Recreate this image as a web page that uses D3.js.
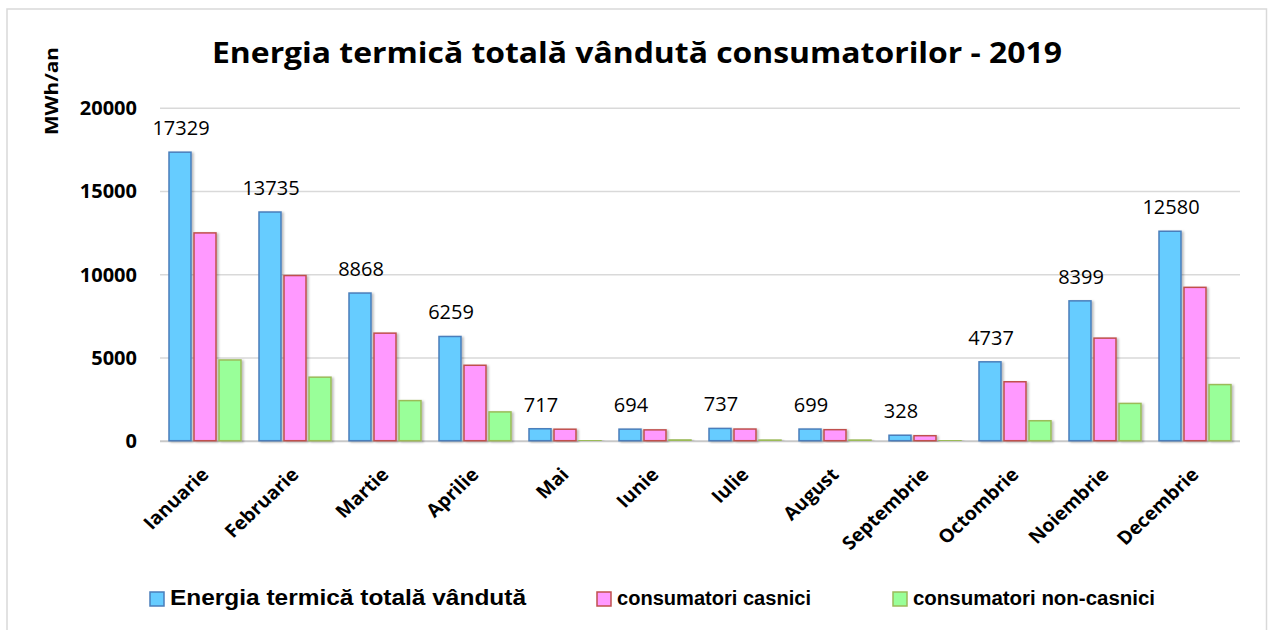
<!DOCTYPE html>
<html><head><meta charset="utf-8">
<script src="https://cdn.jsdelivr.net/npm/d3@7"></script>
<style>
html,body{margin:0;padding:0;background:#fff;}
svg{display:block;}
</style></head>
<body>
<svg id="chart" width="1271" height="630"></svg>
<script>
const months = ["Ianuarie","Februarie","Martie","Aprilie","Mai","Iunie","Iulie","August","Septembrie","Octombrie","Noiembrie","Decembrie"];
const totalSold = [17329,13735,8868,6259,717,694,737,699,328,4737,8399,12580];
const household = [12480,9920,6460,4530,690,650,700,662,300,3540,6160,9210];
const nonHousehold = [4849,3815,2408,1729,27,44,37,37,28,1197,2239,3370];
const seriesNames = ["Energia termică totală vândută","consumatori casnici","consumatori non-casnici"];
const yTicks = [0,5000,10000,15000,20000];
const titleText = "Energia termică totală vândută consumatorilor - 2019";
const yTitle = "MWh/an";

(function(){
const fills = ["#66CCFF","#FF99FF","#99FF99"];
const strokes = ["#4A7EBB","#C0504D","#9BBB59"];

const svg = d3.select("#chart");
const defs = svg.append("defs");
const f = defs.append("filter").attr("id","sh").attr("x","-20%").attr("y","-20%").attr("width","160%").attr("height","140%");
f.append("feDropShadow").attr("dx",2).attr("dy",1).attr("stdDeviation",1.2).attr("flood-color","#000").attr("flood-opacity",0.25);

svg.append("rect").attr("x",7).attr("y",9).attr("width",1259.5).attr("height",640)
  .attr("fill","#fff").attr("stroke","#d9d9d9").attr("stroke-width",1.5);

const pLeft = 160, pRight = 1240, pTop = 107.7, pBottom = 440.7;
const x = d3.scaleBand().domain(months).range([pLeft,pRight]).paddingInner(0.2).paddingOuter(0.1);
const xs = d3.scaleBand().domain([0,1,2]).range([0,x.bandwidth()]).paddingInner(0.12);
const y = d3.scaleLinear().domain([0,20000]).range([pBottom,pTop]);

const grid = svg.append("g").attr("transform",`translate(${pLeft},0)`)
  .call(d3.axisLeft(y).tickValues(yTicks).tickSize(-(pRight-pLeft)).tickFormat(""));
grid.select(".domain").remove();
grid.selectAll("line").attr("stroke","#d9d9d9").attr("stroke-width",1.5);
grid.selectAll("line").filter(d=>d===0).attr("stroke","#c8c8c8").attr("stroke-width",2);

const ya = svg.append("g").attr("transform",`translate(137,0)`)
  .call(d3.axisLeft(y).tickValues(yTicks).tickSize(0).tickPadding(0).tickFormat(d3.format("d")));
ya.select(".domain").remove();
ya.selectAll("text").attr("font-family","'Open Sans'").attr("font-weight","bold").attr("font-size","20px").attr("fill","#000").attr("dy","0.35em");

const series = [totalSold, household, nonHousehold];
series.forEach((vals,si)=>{
  svg.append("g").selectAll("rect").data(vals).join("rect")
    .attr("x",(d,i)=>x(months[i])+xs(si))
    .attr("y",d=>y(d))
    .attr("width",xs.bandwidth())
    .attr("height",d=>pBottom-y(d))
    .attr("fill",fills[si]).attr("stroke",strokes[si]).attr("stroke-width",1.5)
    .attr("filter","url(#sh)");
});

svg.append("g").selectAll("text").data(totalSold).join("text")
  .attr("x",(d,i)=>x(months[i])+xs(0)+xs.bandwidth()/2+1)
  .attr("y",d=>y(d)-17)
  .attr("text-anchor","middle")
  .attr("font-family","'Open Sans'").attr("font-size","20px").attr("fill","#000")
  .text(d=>d);

const xa = svg.append("g").attr("transform",`translate(0,${pBottom})`)
  .call(d3.axisBottom(x).tickSize(0).tickPadding(0));
xa.select(".domain").remove();
xa.selectAll("text")
  .attr("font-family","'Open Sans'").attr("font-weight","bold").attr("font-size","18.5px").attr("fill","#000")
  .attr("text-anchor","end").attr("y",0).attr("dy",0)
  .attr("transform","translate(5,35) scale(1.06,1) rotate(-45)");

svg.append("text").attr("x",637).attr("y",63).attr("text-anchor","middle")
  .attr("font-family","'Open Sans'").attr("font-weight","bold").attr("font-size","28px").attr("fill","#000")
  .attr("textLength",850).attr("lengthAdjust","spacingAndGlyphs")
  .text(titleText);

svg.append("text").attr("transform","translate(58,91) rotate(-90)").attr("text-anchor","middle")
  .attr("font-family","'Open Sans'").attr("font-weight","bold").attr("font-size","17px").attr("fill","#000")
  .attr("textLength",88).attr("lengthAdjust","spacingAndGlyphs")
  .text(yTitle);

const legX = [150,597,893];
const legW = [356,194,242];
const legFs = [22,20,20];
const lg = svg.append("g");
seriesNames.forEach((n,i)=>{
  lg.append("rect").attr("x",legX[i]).attr("y",592).attr("width",14).attr("height",14)
    .attr("fill",fills[i]).attr("stroke",strokes[i]).attr("stroke-width",1.5);
  lg.append("text").attr("x",legX[i]+20).attr("y",605)
    .attr("font-family","'Liberation Sans'").attr("font-weight","bold").attr("font-size",legFs[i]+"px").attr("fill","#000")
    .attr("textLength",legW[i]).attr("lengthAdjust","spacingAndGlyphs")
    .text(n);
});
})();
</script>
</body></html>
